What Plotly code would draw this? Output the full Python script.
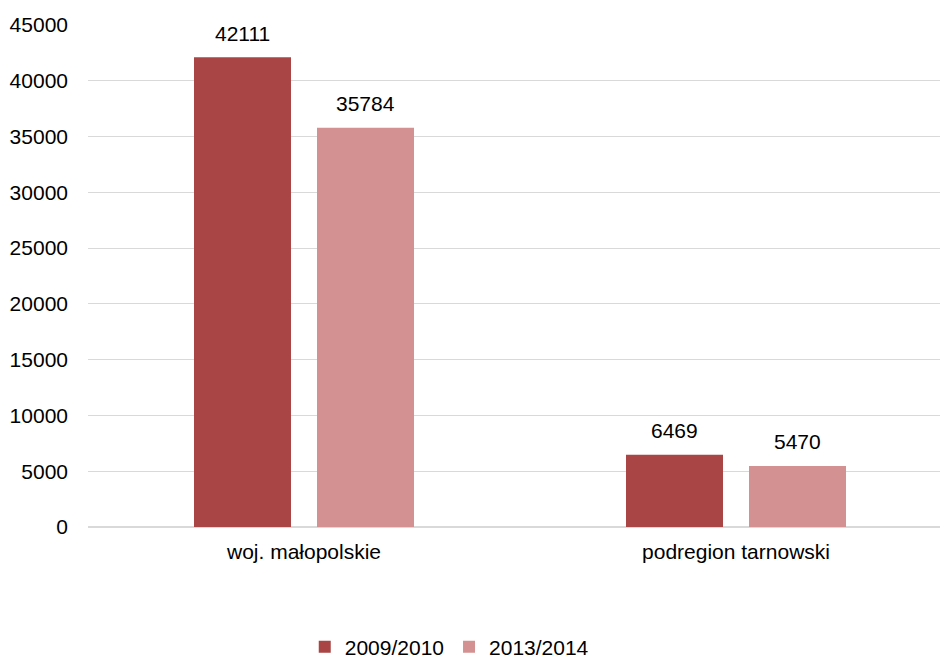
import plotly.graph_objects as go

categories = ["woj. małopolskie", "podregion tarnowski"]
series_names = ["2009/2010", "2013/2014"]
values_2009 = [42111, 6469]
values_2013 = [35784, 5470]
colors = ["#A94645", "#D39291"]
y_ticks = [0, 5000, 10000, 15000, 20000, 25000, 30000, 35000, 40000, 45000]

FONT = "Liberation Sans, Arial, sans-serif"
FS = 21
W, H = 940, 660
CAT_PX = 432.0          # pixel width of one category slot
BAR_W = 97 / CAT_PX     # bar width in category units
offsets = [-110 / CAT_PX, 13 / CAT_PX]

fig = go.Figure()
for name, vals, col, off in zip(series_names, [values_2009, values_2013], colors, offsets):
    fig.add_trace(go.Bar(x=categories, y=vals, name=name, width=BAR_W, offset=off,
                         marker=dict(color=col, line=dict(width=0))))

shifts = [-61.5, 61.5]
for vals, sh in zip([values_2009, values_2013], shifts):
    for c, v in zip(categories, vals):
        fig.add_annotation(x=c, y=v, text=str(v), showarrow=False, xref="x", yref="y",
                           xshift=sh, yshift=24, yanchor="middle",
                           font=dict(family=FONT, size=FS, color="#000000"))

fig.update_layout(
    width=W, height=H,
    margin=dict(l=88, r=0, t=25, b=133, autoexpand=False),
    paper_bgcolor="white", plot_bgcolor="white",
    barmode="overlay",
    font=dict(family=FONT, size=FS, color="#000000"),
    legend=dict(orientation="h", x=0.424, xanchor="center", y=(H - 647) / H, yanchor="middle",
                yref="container",
                font=dict(family=FONT, size=FS, color="#000000"), itemwidth=30),
    xaxis=dict(range=[-0.5, 1.5 - 12 / CAT_PX], showgrid=False, showline=False, ticks="",
               automargin=False, ticklabelstandoff=10,
               tickfont=dict(family=FONT, size=FS, color="#000000")),
    yaxis=dict(range=[0, 45000], tickvals=y_ticks, showgrid=True, gridcolor="#D9D9D9", gridwidth=1.3,
               zeroline=True, zerolinecolor="#D9D9D9", zerolinewidth=1.5, showline=False, ticks="",
               automargin=False, ticklabelstandoff=19, tickformat="d",
               tickfont=dict(family=FONT, size=FS, color="#000000")),
)
fig.write_html("out.html", config={"displayModeBar": False},
               post_script="document.body.style.margin='0';document.body.style.overflow='hidden';"
                           "document.documentElement.style.overflow='hidden';")
